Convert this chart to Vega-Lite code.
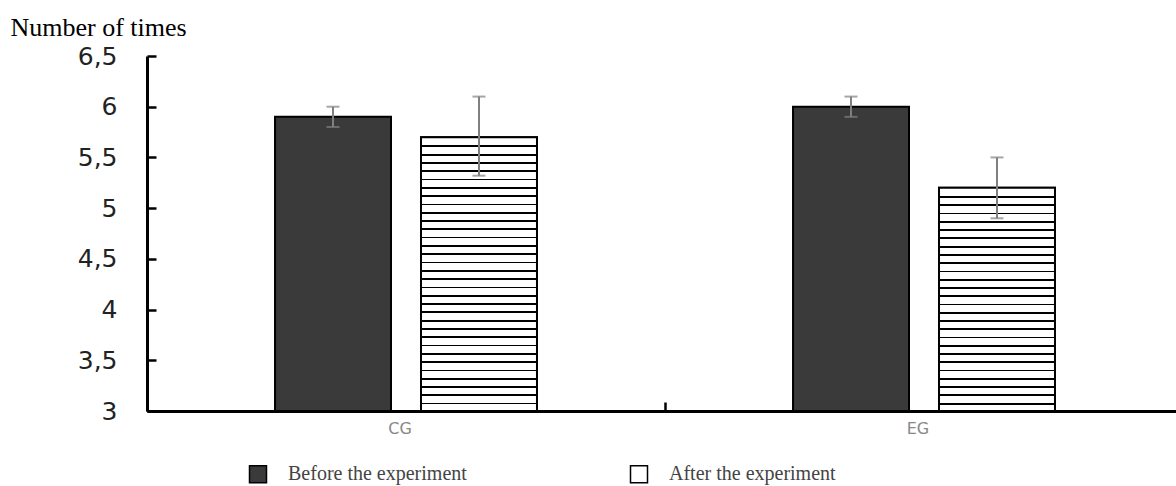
{
  "$schema": "https://vega.github.io/schema/vega-lite/v6.json",
  "width": 1029,
  "height": 355,
  "autosize": {"type": "none"},
  "padding": {"left": 147, "top": 56, "right": 0, "bottom": 75},
  "background": "white",
  "config": {"view": {"stroke": null}},
  "data": {
    "values": [
      {"group": "CG", "phase": "Before the experiment", "value": 5.9, "lo": 5.8, "hi": 6.0},
      {"group": "CG", "phase": "After the experiment", "value": 5.7, "lo": 5.32, "hi": 6.1},
      {"group": "EG", "phase": "Before the experiment", "value": 6.0, "lo": 5.9, "hi": 6.1},
      {"group": "EG", "phase": "After the experiment", "value": 5.2, "lo": 4.9, "hi": 5.5}
    ]
  },
  "encoding": {
    "x": {
      "field": "group", "type": "nominal",
      "scale": {"range": [0, 1036], "paddingInner": 0, "paddingOuter": 0},
      "axis": {
        "title": null, "bandPosition": 0, "labelOffset": -6, "labelAngle": 0,
        "tickSize": -9, "tickWidth": 2.5, "tickColor": "black",
        "domainColor": "black", "domainWidth": 3,
        "labelFont": "DejaVu Sans", "labelFontSize": 16, "labelColor": "#888", "labelPadding": 18
      }
    },
    "xOffset": {
      "field": "phase", "type": "nominal",
      "sort": ["Before the experiment", "After the experiment"],
      "scale": {"paddingInner": 0.2055, "paddingOuter": 0.877}
    }
  },
  "layer": [
    {
      "mark": {"type": "bar", "stroke": "black", "strokeWidth": 2},
      "encoding": {
        "y": {
          "field": "value", "type": "quantitative", "title": "Number of times",
          "scale": {"domain": [3, 6.5], "nice": false, "zero": false},
          "axis": {
            "values": [3, 3.5, 4, 4.5, 5, 5.5, 6, 6.5],
            "labelExpr": "replace(toString(datum.value), '.', ',')",
            "grid": false, "domainColor": "black", "domainWidth": 3,
            "tickColor": "black", "tickWidth": 2.5, "tickSize": -9,
            "labelFont": "DejaVu Sans", "labelFontSize": 25, "labelColor": "#222", "labelPadding": 39,
            "titleAngle": 0, "titleX": -137, "titleY": -21, "titleAlign": "left", "titleBaseline": "alphabetic",
            "titleFont": "Liberation Serif", "titleFontSize": 26, "titleFontWeight": "normal", "titleColor": "black"
          }
        },
        "y2": {"datum": 3},
        "fill": {
          "field": "phase", "type": "nominal",
          "scale": {"domain": ["Before the experiment", "After the experiment"], "range": ["#3a3a3a", "#ffffff"]},
          "legend": {
            "orient": "none", "legendX": 101, "legendY": 408, "direction": "horizontal", "title": null,
            "symbolType": "square", "symbolSize": 289, "symbolStrokeColor": "black", "symbolStrokeWidth": 1.5,
            "symbolOpacity": 1, "labelFont": "Liberation Serif", "labelFontSize": 20, "labelColor": "#444",
            "labelOffset": 20, "columnPadding": 160, "labelLimit": 400
          }
        }
      }
    },
    {
      "transform": [{"filter": "datum.group === 'CG' && datum.phase === 'After the experiment'"}],
      "mark": {
        "type": "bar", "stroke": "black", "strokeWidth": 2,
        "fill": {
          "gradient": "linear", "x1": 0, "y1": 0, "x2": 0, "y2": 1,
          "stops": [
            {"offset": 0, "color": "#fff"},
            {"offset": 0.0303, "color": "#fff"}, {"offset": 0.0303, "color": "#000"}, {"offset": 0.0368, "color": "#000"}, {"offset": 0.0368, "color": "#fff"},
            {"offset": 0.0606, "color": "#fff"}, {"offset": 0.0606, "color": "#000"}, {"offset": 0.0671, "color": "#000"}, {"offset": 0.0671, "color": "#fff"},
            {"offset": 0.0909, "color": "#fff"}, {"offset": 0.0909, "color": "#000"}, {"offset": 0.0974, "color": "#000"}, {"offset": 0.0974, "color": "#fff"},
            {"offset": 0.1212, "color": "#fff"}, {"offset": 0.1212, "color": "#000"}, {"offset": 0.1277, "color": "#000"}, {"offset": 0.1277, "color": "#fff"},
            {"offset": 0.1515, "color": "#fff"}, {"offset": 0.1515, "color": "#000"}, {"offset": 0.1580, "color": "#000"}, {"offset": 0.1580, "color": "#fff"},
            {"offset": 0.1818, "color": "#fff"}, {"offset": 0.1818, "color": "#000"}, {"offset": 0.1883, "color": "#000"}, {"offset": 0.1883, "color": "#fff"},
            {"offset": 0.2121, "color": "#fff"}, {"offset": 0.2121, "color": "#000"}, {"offset": 0.2186, "color": "#000"}, {"offset": 0.2186, "color": "#fff"},
            {"offset": 0.2424, "color": "#fff"}, {"offset": 0.2424, "color": "#000"}, {"offset": 0.2489, "color": "#000"}, {"offset": 0.2489, "color": "#fff"},
            {"offset": 0.2727, "color": "#fff"}, {"offset": 0.2727, "color": "#000"}, {"offset": 0.2792, "color": "#000"}, {"offset": 0.2792, "color": "#fff"},
            {"offset": 0.3030, "color": "#fff"}, {"offset": 0.3030, "color": "#000"}, {"offset": 0.3095, "color": "#000"}, {"offset": 0.3095, "color": "#fff"},
            {"offset": 0.3333, "color": "#fff"}, {"offset": 0.3333, "color": "#000"}, {"offset": 0.3398, "color": "#000"}, {"offset": 0.3398, "color": "#fff"},
            {"offset": 0.3636, "color": "#fff"}, {"offset": 0.3636, "color": "#000"}, {"offset": 0.3701, "color": "#000"}, {"offset": 0.3701, "color": "#fff"},
            {"offset": 0.3939, "color": "#fff"}, {"offset": 0.3939, "color": "#000"}, {"offset": 0.4004, "color": "#000"}, {"offset": 0.4004, "color": "#fff"},
            {"offset": 0.4242, "color": "#fff"}, {"offset": 0.4242, "color": "#000"}, {"offset": 0.4307, "color": "#000"}, {"offset": 0.4307, "color": "#fff"},
            {"offset": 0.4545, "color": "#fff"}, {"offset": 0.4545, "color": "#000"}, {"offset": 0.4610, "color": "#000"}, {"offset": 0.4610, "color": "#fff"},
            {"offset": 0.4848, "color": "#fff"}, {"offset": 0.4848, "color": "#000"}, {"offset": 0.4913, "color": "#000"}, {"offset": 0.4913, "color": "#fff"},
            {"offset": 0.5152, "color": "#fff"}, {"offset": 0.5152, "color": "#000"}, {"offset": 0.5217, "color": "#000"}, {"offset": 0.5217, "color": "#fff"},
            {"offset": 0.5455, "color": "#fff"}, {"offset": 0.5455, "color": "#000"}, {"offset": 0.5520, "color": "#000"}, {"offset": 0.5520, "color": "#fff"},
            {"offset": 0.5758, "color": "#fff"}, {"offset": 0.5758, "color": "#000"}, {"offset": 0.5823, "color": "#000"}, {"offset": 0.5823, "color": "#fff"},
            {"offset": 0.6061, "color": "#fff"}, {"offset": 0.6061, "color": "#000"}, {"offset": 0.6126, "color": "#000"}, {"offset": 0.6126, "color": "#fff"},
            {"offset": 0.6364, "color": "#fff"}, {"offset": 0.6364, "color": "#000"}, {"offset": 0.6429, "color": "#000"}, {"offset": 0.6429, "color": "#fff"},
            {"offset": 0.6667, "color": "#fff"}, {"offset": 0.6667, "color": "#000"}, {"offset": 0.6732, "color": "#000"}, {"offset": 0.6732, "color": "#fff"},
            {"offset": 0.6970, "color": "#fff"}, {"offset": 0.6970, "color": "#000"}, {"offset": 0.7035, "color": "#000"}, {"offset": 0.7035, "color": "#fff"},
            {"offset": 0.7273, "color": "#fff"}, {"offset": 0.7273, "color": "#000"}, {"offset": 0.7338, "color": "#000"}, {"offset": 0.7338, "color": "#fff"},
            {"offset": 0.7576, "color": "#fff"}, {"offset": 0.7576, "color": "#000"}, {"offset": 0.7641, "color": "#000"}, {"offset": 0.7641, "color": "#fff"},
            {"offset": 0.7879, "color": "#fff"}, {"offset": 0.7879, "color": "#000"}, {"offset": 0.7944, "color": "#000"}, {"offset": 0.7944, "color": "#fff"},
            {"offset": 0.8182, "color": "#fff"}, {"offset": 0.8182, "color": "#000"}, {"offset": 0.8247, "color": "#000"}, {"offset": 0.8247, "color": "#fff"},
            {"offset": 0.8485, "color": "#fff"}, {"offset": 0.8485, "color": "#000"}, {"offset": 0.8550, "color": "#000"}, {"offset": 0.8550, "color": "#fff"},
            {"offset": 0.8788, "color": "#fff"}, {"offset": 0.8788, "color": "#000"}, {"offset": 0.8853, "color": "#000"}, {"offset": 0.8853, "color": "#fff"},
            {"offset": 0.9091, "color": "#fff"}, {"offset": 0.9091, "color": "#000"}, {"offset": 0.9156, "color": "#000"}, {"offset": 0.9156, "color": "#fff"},
            {"offset": 0.9394, "color": "#fff"}, {"offset": 0.9394, "color": "#000"}, {"offset": 0.9459, "color": "#000"}, {"offset": 0.9459, "color": "#fff"},
            {"offset": 0.9697, "color": "#fff"}, {"offset": 0.9697, "color": "#000"}, {"offset": 0.9762, "color": "#000"}, {"offset": 0.9762, "color": "#fff"},
            {"offset": 1, "color": "#fff"}
          ]
        }
      },
      "encoding": {
        "y": {"field": "value", "type": "quantitative", "title": "Number of times"},
        "y2": {"datum": 3}
      }
    },
    {
      "transform": [{"filter": "datum.group === 'EG' && datum.phase === 'After the experiment'"}],
      "mark": {
        "type": "bar", "stroke": "black", "strokeWidth": 2,
        "fill": {
          "gradient": "linear", "x1": 0, "y1": 0, "x2": 0, "y2": 1,
          "stops": [
            {"offset": 0, "color": "#fff"},
            {"offset": 0.0370, "color": "#fff"}, {"offset": 0.0370, "color": "#000"}, {"offset": 0.0450, "color": "#000"}, {"offset": 0.0450, "color": "#fff"},
            {"offset": 0.0741, "color": "#fff"}, {"offset": 0.0741, "color": "#000"}, {"offset": 0.0821, "color": "#000"}, {"offset": 0.0821, "color": "#fff"},
            {"offset": 0.1111, "color": "#fff"}, {"offset": 0.1111, "color": "#000"}, {"offset": 0.1191, "color": "#000"}, {"offset": 0.1191, "color": "#fff"},
            {"offset": 0.1481, "color": "#fff"}, {"offset": 0.1481, "color": "#000"}, {"offset": 0.1561, "color": "#000"}, {"offset": 0.1561, "color": "#fff"},
            {"offset": 0.1852, "color": "#fff"}, {"offset": 0.1852, "color": "#000"}, {"offset": 0.1932, "color": "#000"}, {"offset": 0.1932, "color": "#fff"},
            {"offset": 0.2222, "color": "#fff"}, {"offset": 0.2222, "color": "#000"}, {"offset": 0.2302, "color": "#000"}, {"offset": 0.2302, "color": "#fff"},
            {"offset": 0.2593, "color": "#fff"}, {"offset": 0.2593, "color": "#000"}, {"offset": 0.2673, "color": "#000"}, {"offset": 0.2673, "color": "#fff"},
            {"offset": 0.2963, "color": "#fff"}, {"offset": 0.2963, "color": "#000"}, {"offset": 0.3043, "color": "#000"}, {"offset": 0.3043, "color": "#fff"},
            {"offset": 0.3333, "color": "#fff"}, {"offset": 0.3333, "color": "#000"}, {"offset": 0.3413, "color": "#000"}, {"offset": 0.3413, "color": "#fff"},
            {"offset": 0.3704, "color": "#fff"}, {"offset": 0.3704, "color": "#000"}, {"offset": 0.3784, "color": "#000"}, {"offset": 0.3784, "color": "#fff"},
            {"offset": 0.4074, "color": "#fff"}, {"offset": 0.4074, "color": "#000"}, {"offset": 0.4154, "color": "#000"}, {"offset": 0.4154, "color": "#fff"},
            {"offset": 0.4444, "color": "#fff"}, {"offset": 0.4444, "color": "#000"}, {"offset": 0.4524, "color": "#000"}, {"offset": 0.4524, "color": "#fff"},
            {"offset": 0.4815, "color": "#fff"}, {"offset": 0.4815, "color": "#000"}, {"offset": 0.4895, "color": "#000"}, {"offset": 0.4895, "color": "#fff"},
            {"offset": 0.5185, "color": "#fff"}, {"offset": 0.5185, "color": "#000"}, {"offset": 0.5265, "color": "#000"}, {"offset": 0.5265, "color": "#fff"},
            {"offset": 0.5556, "color": "#fff"}, {"offset": 0.5556, "color": "#000"}, {"offset": 0.5636, "color": "#000"}, {"offset": 0.5636, "color": "#fff"},
            {"offset": 0.5926, "color": "#fff"}, {"offset": 0.5926, "color": "#000"}, {"offset": 0.6006, "color": "#000"}, {"offset": 0.6006, "color": "#fff"},
            {"offset": 0.6296, "color": "#fff"}, {"offset": 0.6296, "color": "#000"}, {"offset": 0.6376, "color": "#000"}, {"offset": 0.6376, "color": "#fff"},
            {"offset": 0.6667, "color": "#fff"}, {"offset": 0.6667, "color": "#000"}, {"offset": 0.6747, "color": "#000"}, {"offset": 0.6747, "color": "#fff"},
            {"offset": 0.7037, "color": "#fff"}, {"offset": 0.7037, "color": "#000"}, {"offset": 0.7117, "color": "#000"}, {"offset": 0.7117, "color": "#fff"},
            {"offset": 0.7407, "color": "#fff"}, {"offset": 0.7407, "color": "#000"}, {"offset": 0.7487, "color": "#000"}, {"offset": 0.7487, "color": "#fff"},
            {"offset": 0.7778, "color": "#fff"}, {"offset": 0.7778, "color": "#000"}, {"offset": 0.7858, "color": "#000"}, {"offset": 0.7858, "color": "#fff"},
            {"offset": 0.8148, "color": "#fff"}, {"offset": 0.8148, "color": "#000"}, {"offset": 0.8228, "color": "#000"}, {"offset": 0.8228, "color": "#fff"},
            {"offset": 0.8519, "color": "#fff"}, {"offset": 0.8519, "color": "#000"}, {"offset": 0.8599, "color": "#000"}, {"offset": 0.8599, "color": "#fff"},
            {"offset": 0.8889, "color": "#fff"}, {"offset": 0.8889, "color": "#000"}, {"offset": 0.8969, "color": "#000"}, {"offset": 0.8969, "color": "#fff"},
            {"offset": 0.9259, "color": "#fff"}, {"offset": 0.9259, "color": "#000"}, {"offset": 0.9339, "color": "#000"}, {"offset": 0.9339, "color": "#fff"},
            {"offset": 0.9630, "color": "#fff"}, {"offset": 0.9630, "color": "#000"}, {"offset": 0.9710, "color": "#000"}, {"offset": 0.9710, "color": "#fff"},
            {"offset": 1, "color": "#fff"}
          ]
        }
      },
      "encoding": {
        "y": {"field": "value", "type": "quantitative", "title": "Number of times"},
        "y2": {"datum": 3}
      }
    },
    {
      "mark": {"type": "rule", "color": "#808080", "strokeWidth": 2},
      "encoding": {
        "y": {"field": "lo", "type": "quantitative", "title": "Number of times"},
        "y2": {"field": "hi"}
      }
    },
    {
      "mark": {"type": "tick", "color": "#808080", "thickness": 2, "size": 13, "orient": "horizontal"},
      "encoding": {
        "y": {"field": "hi", "type": "quantitative", "title": "Number of times"}
      }
    },
    {
      "mark": {"type": "tick", "color": "#808080", "thickness": 2, "size": 13, "orient": "horizontal"},
      "encoding": {
        "y": {"field": "lo", "type": "quantitative", "title": "Number of times"}
      }
    }
  ]
}
